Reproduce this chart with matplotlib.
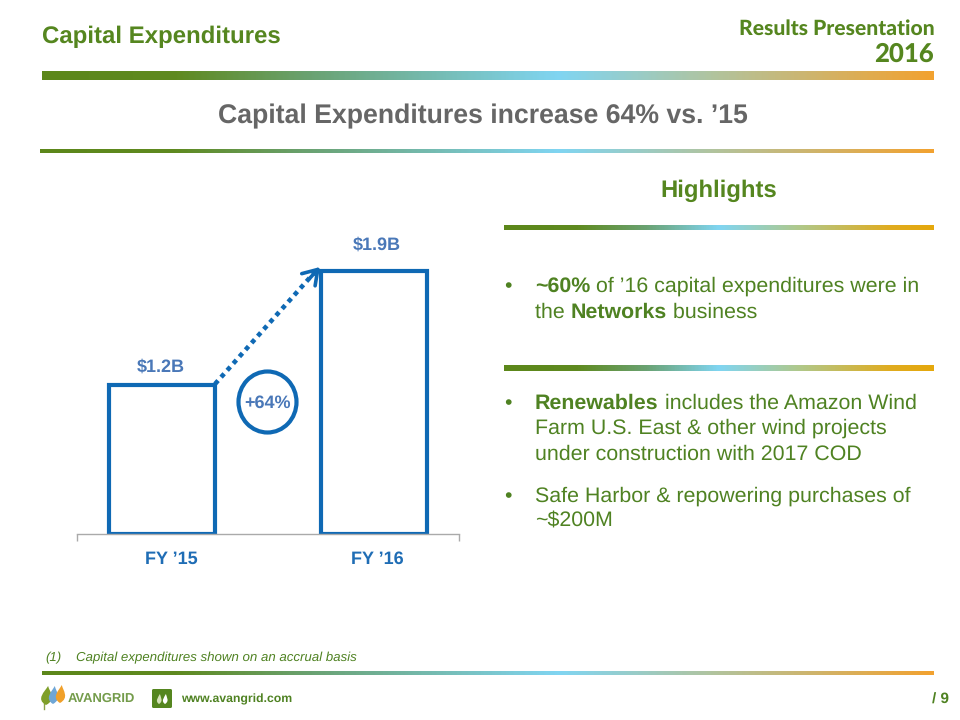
import matplotlib
matplotlib.use("Agg")
import matplotlib.pyplot as plt
import numpy as np
from matplotlib.colors import LinearSegmentedColormap
from matplotlib.patches import Ellipse, FancyBboxPatch, PathPatch
from matplotlib.path import Path

plt.rcParams['font.family'] = ['Liberation Sans', 'DejaVu Sans']
plt.rcParams['text.hinting'] = 'no_hinting'
plt.rcParams['text.hinting_factor'] = 8

# datos de la grafica
categorias = ["FY ’15", "FY ’16"]
alturas = [1.08, 1.9]
etiquetas = ["$1.2B", "$1.9B"]
cambio = "+64%"

VERDE = '#55861f'
VERDE_TXT = '#4f8222'
GRIS = '#666666'
AZUL = '#0f69b4'
AZUL_TXT = '#4a78b8'

W, H = 960, 720
fig = plt.figure(figsize=(9.6, 7.2), dpi=100, facecolor='white')

# capa en pixeles para todo lo que no es la grafica
capa = fig.add_axes([0, 0, 1, 1], zorder=0)
capa.set_xlim(0, W)
capa.set_ylim(H, 0)
capa.axis('off')

cmap_naranja = LinearSegmentedColormap.from_list('naranja', [
    (0, '#5c871a'), (0.15, '#5f8a20'), (0.3, '#6aa272'), (0.58, '#80d5f2'),
    (0.75, '#b0c4a0'), (1, '#f2a230')])
cmap_oro = LinearSegmentedColormap.from_list('oro', [
    (0, '#5c871a'), (0.17, '#5f8a20'), (0.33, '#6aa272'), (0.5, '#80d5f2'),
    (0.68, '#aec98f'), (0.9, '#e0ac20'), (1, '#e5a80c')])


def barra(x0, x1, y0, y1, cmap):
    grad = np.linspace(0, 1, 400).reshape(1, -1)
    capa.imshow(grad, extent=(x0, x1, y1, y0), cmap=cmap, aspect='auto', zorder=1)
    capa.set_xlim(0, W)
    capa.set_ylim(H, 0)


barra(42, 934, 71, 80, cmap_naranja)
barra(40, 934, 149, 153, cmap_naranja)
barra(42, 934, 671, 675, cmap_naranja)
barra(504, 934, 225, 230, cmap_oro)
barra(504, 934, 365, 371, cmap_oro)

capa.text(42, 37, "Capital Expenditures", fontsize=17.3, fontweight='bold', color=VERDE, va='center')
capa.text(483, 116.5, "Capital Expenditures increase 64% vs. ’15", fontsize=19.2, fontweight='bold',
          color=GRIS, ha='center', va='center')
capa.text(935, 29, "Results Presentation", fontsize=15.2, fontweight=900, family='Lato',
          color=VERDE, ha='right', va='center')
capa.text(934, 54, "2016", fontsize=18.5, fontweight=900, family='Lato',
          color=VERDE, ha='right', va='center')
capa.text(719, 190.5, "Highlights", fontsize=17.2, fontweight='bold', color=VERDE, ha='center', va='center')

fig.canvas.draw()
render = fig.canvas.get_renderer()


# una linea con partes en negrita, se van midiendo los trozos
def linea(x, y, partes):
    for texto, negrita in partes:
        t = capa.text(x, y, texto, fontsize=15.4, color=VERDE_TXT, va='baseline',
                      fontweight='bold' if negrita else 'normal')
        x += t.get_window_extent(render).width


cuerpo = [
    (292, [("~60%", True), (" of ’16 capital expenditures were in", False)], True),
    (318, [("the ", False), ("Networks", True), (" business", False)], False),
    (409, [("Renewables", True), (" includes the Amazon Wind", False)], True),
    (434, [("Farm U.S. East & other wind projects", False)], False),
    (460, [("under construction with 2017 COD", False)], False),
    (502, [("Safe Harbor & repowering purchases of", False)], True),
    (527, [("~$200M", False)], False),
]
for y, partes, vineta in cuerpo:
    linea(535, y, partes)
    if vineta:
        capa.text(504, y, "•", fontsize=15.4, color=VERDE_TXT, va='baseline')

capa.text(45, 657.5, "(1)", fontsize=9.5, style='italic', color=VERDE_TXT, va='center')
capa.text(76, 657.5, "Capital expenditures shown on an accrual basis", fontsize=9.5, style='italic',
          color=VERDE_TXT, va='center')
capa.text(181, 699, "www.avangrid.com", fontsize=8.8, fontweight='bold', color=VERDE_TXT, va='center')
capa.text(949, 700, "/ 9", fontsize=11, fontweight='bold', color=VERDE_TXT, ha='right', va='center')


# logo
def hoja(cx, base, alto, ancho, color):
    p = Path([(cx, base), (cx - ancho * 1.5, base - alto * 0.3), (cx - ancho * 0.2, base - alto * 0.7), (cx + ancho * 0.3, base - alto),
              (cx + ancho * 0.5, base - alto * 0.7), (cx + ancho * 1.6, base - alto * 0.3), (cx, base)],
             [Path.MOVETO, Path.CURVE4, Path.CURVE4, Path.CURVE4, Path.CURVE4, Path.CURVE4, Path.CURVE4])
    capa.add_patch(PathPatch(p, facecolor=color, edgecolor='none', zorder=2))


hoja(46, 705, 19, 7, '#7f9f2a')
hoja(53, 704, 18, 6, '#6fa6d6')
hoja(60, 703, 18, 6, '#f0a02a')
capa.plot([44, 44], [702, 709], color='#8aa24a', lw=1, zorder=1)
capa.text(68, 699, "AVANGRID", fontsize=9.4, fontweight='bold', color='#5b8a2a', va='center', alpha=0.85)
capa.add_patch(FancyBboxPatch((152, 689), 20, 19, boxstyle='round,pad=0,rounding_size=1.5',
                              facecolor=VERDE, edgecolor='none', zorder=2))
hoja(159, 704, 10, 3, '#d5e2b8')
hoja(165, 704, 10, 3, '#ffffff')

# grafica de barras
ax = fig.add_axes([77 / W, 1 - 534 / H, 382 / W, 294 / H], zorder=1)
ax.patch.set_alpha(0)
x = np.arange(len(categorias))
ax.bar(x, alturas, width=0.5, facecolor='none', edgecolor=AZUL, linewidth=3)
ax.set_xlim(-0.4, 1.4)
ax.set_ylim(0, 294 / 263 * 1.9)
for lado in ['top', 'left', 'right']:
    ax.spines[lado].set_visible(False)
ax.spines['bottom'].set_color('#aaaaaa')
ax.spines['bottom'].set_linewidth(1)
ax.set_yticks([])
ax.set_xticks([-0.4, 1.4])
ax.set_xticklabels([])
ax.tick_params(axis='x', length=5, width=1, color='#aaaaaa')

desp_etq = [(-1, 18), (3, 26)]
desp_cat = [9, 3]
for i, h in enumerate(alturas):
    ax.annotate(etiquetas[i], (x[i], h), xytext=desp_etq[i], textcoords='offset pixels', ha='center',
                va='center', fontsize=13, fontweight='bold', color=AZUL_TXT)
    ax.annotate(categorias[i], (x[i], 0), xytext=(desp_cat[i], -25), textcoords='offset pixels', ha='center',
                va='center', fontsize=13, fontweight='bold', color='#1f6db5')

# flecha y circulo del cambio
capa.plot([215, 314], [384, 273], color=AZUL, lw=3.3, ls=(0, (1, 1)), zorder=3)
capa.annotate('', xy=(320, 267), xytext=(310, 278), zorder=3,
              arrowprops=dict(arrowstyle='->,head_length=1.0,head_width=0.65', color=AZUL, lw=2.6,
                              shrinkA=0, shrinkB=0))
capa.add_patch(Ellipse((267.5, 402), 58, 61, facecolor='none', edgecolor=AZUL, lw=3, zorder=3))
capa.text(267.5, 403.5, cambio, fontsize=13, fontweight='bold', color=AZUL_TXT, ha='center', va='center', zorder=4)

fig.savefig('out.png', dpi=100)
